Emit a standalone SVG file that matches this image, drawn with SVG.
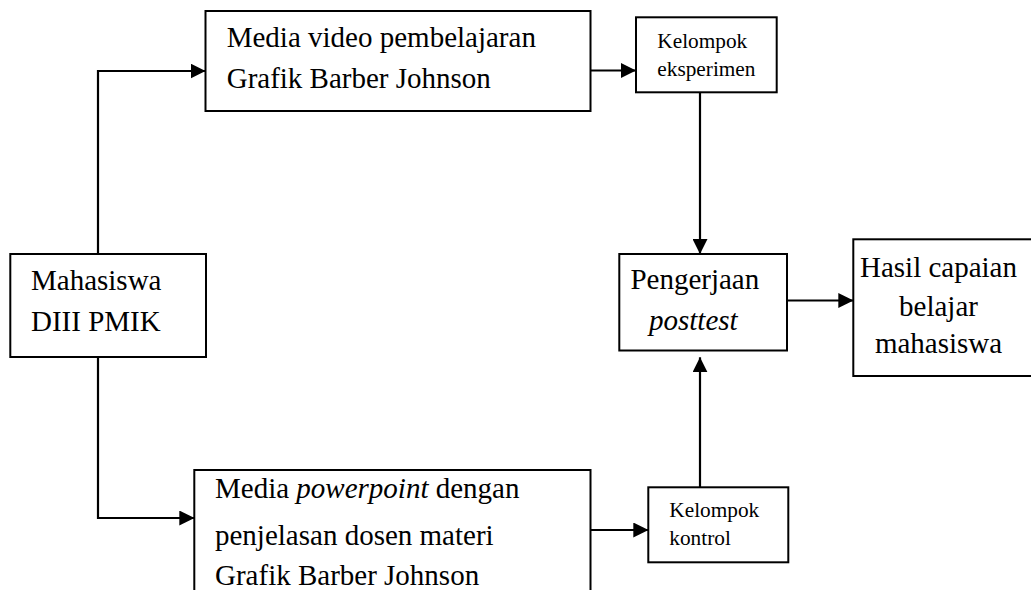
<svg xmlns="http://www.w3.org/2000/svg" width="1031" height="590" viewBox="0 0 1031 590">
<defs>
<marker id="ah" markerWidth="15" markerHeight="15" refX="15" refY="7.5" orient="auto" markerUnits="userSpaceOnUse">
<path d="M0,0 L15,7.5 L0,15 Z" fill="#000"/>
</marker>
<style>
.box{fill:#fff;stroke:#000;stroke-width:2}
.t{font-family:"Liberation Serif","Times New Roman",serif;font-size:29px;fill:#000}
.s{font-family:"Liberation Serif","Times New Roman",serif;font-size:21.3px;fill:#000}
.c{fill:none;stroke:#000;stroke-width:2.2}
</style>
</defs>
<rect width="1031" height="590" fill="#fff"/>
<g id="connectors">
<path class="c" d="M98,254 V71 H205.5" marker-end="url(#ah)"/>
<path class="c" d="M98,357 V518 H194.3" marker-end="url(#ah)"/>
<path class="c" d="M590.5,70.5 H636" marker-end="url(#ah)"/>
<path class="c" d="M590.5,530 H648.3" marker-end="url(#ah)"/>
<path class="c" d="M700,92.3 V254" marker-end="url(#ah)"/>
<path class="c" d="M700,487.3 V357.3" marker-end="url(#ah)"/>
<path class="c" d="M787,300.5 H853.3" marker-end="url(#ah)"/>
</g>
<g id="n-mahasiswa">
<rect class="box" x="10.3" y="254" width="195.7" height="103"/>
<text class="t" x="31" y="290">Mahasiswa</text>
<text class="t" x="31" y="330.7">DIII PMIK</text>
</g>
<g id="n-video">
<rect class="box" x="205.5" y="11" width="385" height="100"/>
<text class="t" x="226.7" y="46.7">Media video pembelajaran</text>
<text class="t" x="226.7" y="88">Grafik Barber Johnson</text>
</g>
<g id="n-ppt">
<rect class="box" x="194.3" y="470" width="396.2" height="130"/>
<text class="t" x="215" y="498.3">Media <tspan font-style="italic">powerpoint</tspan> dengan</text>
<text class="t" x="215" y="545">penjelasan dosen materi</text>
<text class="t" x="215" y="585">Grafik Barber Johnson</text>
</g>
<g id="n-eksperimen">
<rect class="box" x="636" y="17.3" width="140.7" height="75"/>
<text class="s" x="657.3" y="48.3">Kelompok</text>
<text class="s" x="657.3" y="76">eksperimen</text>
</g>
<g id="n-kontrol">
<rect class="box" x="648.3" y="487.3" width="140" height="75"/>
<text class="s" x="669.3" y="517.3">Kelompok</text>
<text class="s" x="669.3" y="545">kontrol</text>
</g>
<g id="n-posttest">
<rect class="box" x="619.3" y="254" width="167.7" height="96.5"/>
<text class="t" x="630.4" y="289.3">Pengerjaan</text>
<text class="t" x="649" y="330" font-style="italic">posttest</text>
</g>
<g id="n-hasil">
<rect class="box" x="853.3" y="239.3" width="190" height="136.7"/>
<text class="t" x="938.5" y="276.7" text-anchor="middle">Hasil capaian</text>
<text class="t" x="938.5" y="316" text-anchor="middle">belajar</text>
<text class="t" x="938.5" y="353.3" text-anchor="middle">mahasiswa</text>
</g>
</svg>
